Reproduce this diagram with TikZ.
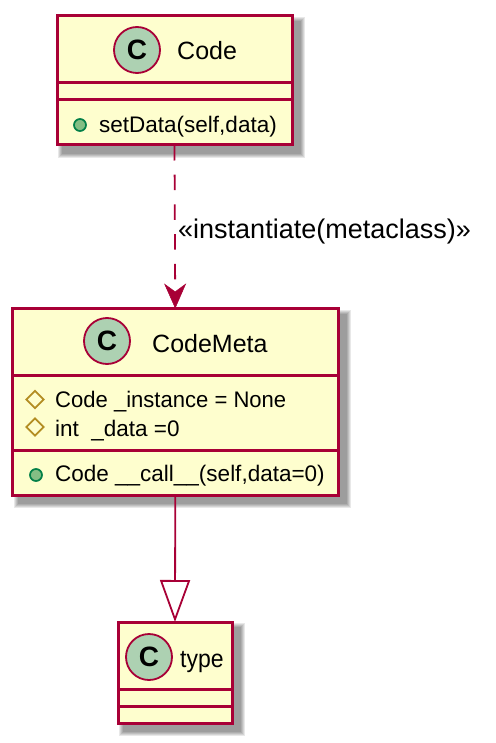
\documentclass[tikz,border=0pt]{standalone}
\usepackage{fontspec}
\setmainfont{Liberation Sans}
\usetikzlibrary{arrows.meta,shapes.geometric}
\definecolor{umlline}{HTML}{A80036}
\definecolor{umlfill}{HTML}{FEFECE}
\definecolor{spot}{HTML}{ADD1B2}
\definecolor{pubfill}{HTML}{84BE84}
\definecolor{publine}{HTML}{038048}
\definecolor{protline}{HTML}{B38D22}
\newcommand{\pxfont}[1]{\fontsize{#1}{#1}\selectfont}
\tikzset{
  classbox/.style={draw=umlline,fill=umlfill,line width=3pt,inner sep=0,outer sep=0,rectangle},
  sepline/.style={draw=umlline,line width=3pt},
  spotc/.style={circle,draw=umlline,fill=spot,line width=1.8pt,minimum size=46pt,inner sep=0,
    font=\pxfont{28}\bfseries,text=black},
  title/.style={anchor=base west,inner sep=0,font=\pxfont{25}},
  member/.style={anchor=base west,inner sep=0,font=\pxfont{22.5}},
  pub/.style={circle,draw=publine,fill=pubfill,line width=1.7pt,minimum size=12pt,inner sep=0},
  prot/.style={diamond,draw=protline,line width=1.8pt,minimum size=18pt,inner sep=0,aspect=1},
  edge/.style={draw=umlline,line width=1.8pt},
  softshadow/.style={fill=black,opacity=0.09}
}
\begin{document}
\begin{tikzpicture}[x=1pt,y=-1pt]
\useasboundingbox (0,0) rectangle (495,743);
\fill[white] (0,0) rectangle (495,743);
\path node[inner sep=0,outer sep=0,minimum width=235pt,minimum height=129pt] (codeS) at (174.5,80.5) {}
      node[inner sep=0,outer sep=0,minimum width=325.5pt,minimum height=186.5pt] (metaS) at (175.25,401.75) {}
      node[inner sep=0,outer sep=0,minimum width=114pt,minimum height=101pt] (typS) at (175,672.5) {};
\foreach \n in {codeS,metaS,typS}
  \foreach \d/\a/\b in {6/1/13,5/2/12,4/3/11,3/4/10,2/5/9}
    \fill[softshadow] ([shift={(\a pt,-\a pt)}]\n.north west) rectangle ([shift={(\b pt,-\b pt)}]\n.south east);
\node[classbox,minimum width=235pt,minimum height=129pt] (code) at (174.5,80.5) {};
\node[classbox,minimum width=325.5pt,minimum height=186.5pt] (meta) at (175.25,401.75) {};
\node[classbox,minimum width=114pt,minimum height=101pt] (typ) at (175,672.5) {};
\draw[sepline] ([yshift=-67pt]code.north west) -- ([yshift=-67pt]code.north east);
\draw[sepline] ([yshift=-84pt]code.north west) -- ([yshift=-84pt]code.north east);
\draw[sepline] ([yshift=-67pt]meta.north west) -- ([yshift=-67pt]meta.north east);
\draw[sepline] ([yshift=-141.5pt]meta.north west) -- ([yshift=-141.5pt]meta.north east);
\draw[sepline] ([yshift=-67pt]typ.north west) -- ([yshift=-67pt]typ.north east);
\draw[sepline] ([yshift=-84pt]typ.north west) -- ([yshift=-84pt]typ.north east);
\node[spotc] (codeC) at (137,50) {C};
\node[title] (codeT) at (177,60) {Code};
\node[spotc] (metaC) at (107,341) {C};
\node[title] (metaT) at (152,352) {CodeMeta};
\node[spotc] (typC) at (149,657) {C};
\node[title] (typT) at (180,667) {\scalebox{0.92}[1]{type}};
\node[pub] (codeP) at (80,125) {};
\node[member] (codeM) at (99,133) {setData(self,data)};
\node[prot] (metaA) at (35,399.5) {};
\node[member] (metaAT) at (55,407) {\scalebox{0.98}[1]{Code \_instance = None}};
\node[prot] (metaB) at (35,427) {};
\node[member] (metaBT) at (55,436) {int\ \ \_data =0};
\node[pub] (metaP) at (36,475) {};
\node[member] (metaPT) at (55,481) {Code \_\_call\_\_(self,data=0)};
\draw[edge,dash pattern=on 15.5pt off 14.2pt,-{Stealth[length=25pt,width=22pt,inset=8pt,fill=umlline,line width=0.5pt]}] (code.south) -- (meta.north);
\draw[edge,-{Triangle[open,length=42pt,width=30pt,fill=white,line width=1.8pt]}] (meta.south) -- (typ.north);
\node[anchor=base west,inner sep=0,font=\pxfont{27}] (lbl) at (178,238) {«instantiate(metaclass)»};
\end{tikzpicture}
\end{document}
